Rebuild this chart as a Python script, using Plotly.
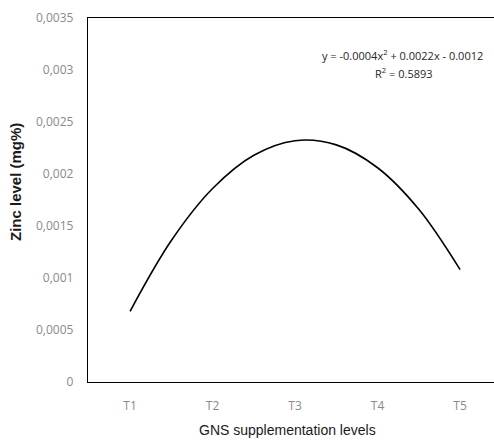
import plotly.graph_objects as go

# Values (x = treatment index, 1 = T1 ... 5 = T5)
curve_x = [1.0, 1.5, 2.0, 2.5, 3.0, 3.5, 4.0, 4.5, 5.0]
zinc_level = [0.00068, 0.00136, 0.00186, 0.00218, 0.00232, 0.00228, 0.00206, 0.00166, 0.00108]

categories = ["T1", "T2", "T3", "T4", "T5"]
category_pos = [1, 2, 3, 4, 5]
y_tickvals = [0, 0.0005, 0.001, 0.0015, 0.002, 0.0025, 0.003, 0.0035]
y_ticktext = ["0", "0,0005", "0,001", "0,0015", "0,002", "0,0025", "0,003", "0,0035"]

equation_text = "y = -0.0004x<sup>2</sup> + 0.0022x - 0.0012"
r2_text = "R<sup>2</sup> = 0.5893"

W, H = 494, 441
L, R, T, B = 88, 0, 18, 59
pw, ph = W - L - R, H - T - B

def px_x(p):
    return (p - L) / pw

def px_y(p):
    return (H - B - p) / ph

fig = go.Figure()
fig.add_trace(go.Scatter(
    x=curve_x, y=zinc_level, mode="lines",
    line=dict(color="black", width=1.6, shape="spline", smoothing=1.0),
    showlegend=False, hoverinfo="skip",
))

tick_font = dict(family="Open Sans, Arial, sans-serif", size=12, color="#8a8a8a")

fig.update_layout(
    width=W, height=H,
    margin=dict(l=L, r=R, t=T, b=B),
    paper_bgcolor="white", plot_bgcolor="white",
    xaxis=dict(
        range=[0.49, 0.49 + pw / 82.5],
        tickvals=category_pos, ticktext=categories,
        showgrid=False, zeroline=False,
        showline=True, linecolor="black", linewidth=1.4, mirror=True,
        ticks="", tickfont=tick_font, ticklabelstandoff=12,
    ),
    yaxis=dict(
        range=[0, 0.0035],
        tickvals=y_tickvals, ticktext=y_ticktext,
        showgrid=False, zeroline=False,
        showline=True, linecolor="black", linewidth=1.4, mirror=False,
        ticks="", tickfont=tick_font, ticklabelstandoff=11,
    ),
    annotations=[
        dict(text="<b>Zinc level (mg%)</b>", xref="paper", yref="paper",
             x=px_x(16), y=px_y(182), xanchor="center", yanchor="middle",
             textangle=-90, showarrow=False,
             font=dict(family="Liberation Sans, Arial, sans-serif", size=15, color="#1a1a1a"),
             ),
        dict(text="GNS supplementation levels", xref="paper", yref="paper",
             x=px_x(287), y=px_y(430), xanchor="center", yanchor="middle",
             showarrow=False,
             font=dict(family="Liberation Sans, Arial, sans-serif", size=14, color="#1a1a1a")),
        dict(text=equation_text, xref="paper", yref="paper",
             x=px_x(402), y=px_y(55), xanchor="center", yanchor="middle",
             showarrow=False,
             font=dict(family="Open Sans, Arial, sans-serif", size=11, color="#262626")),
        dict(text=r2_text, xref="paper", yref="paper",
             x=px_x(404), y=px_y(73), xanchor="center", yanchor="middle",
             showarrow=False,
             font=dict(family="Open Sans, Arial, sans-serif", size=11, color="#262626")),
    ],
)

fig.write_html("out.html")
